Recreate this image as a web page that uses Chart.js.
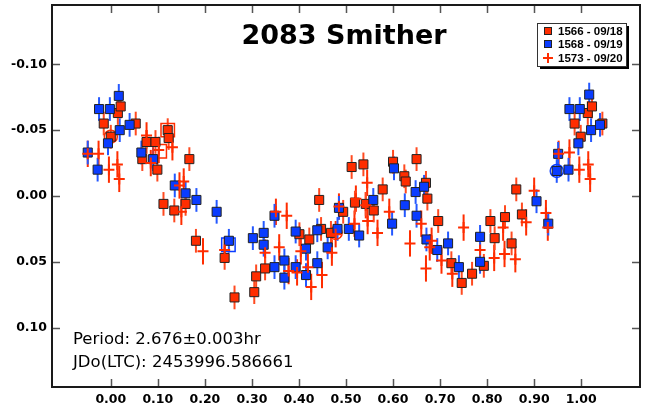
<!DOCTYPE html>
<html>
<head>
<meta charset="utf-8">
<script src="https://cdn.jsdelivr.net/npm/chart.js@4.4.1/dist/chart.umd.min.js"></script>
<style>
  html, body { margin: 0; padding: 0; background: #fff; }
  #wrap { width: 645px; height: 408px; }
</style>
</head>
<body>
<div id="wrap"><canvas id="lc" width="645" height="408"></canvas></div>
<script>
// Lightcurve 2083 Smither - phase vs. relative magnitude
const TITLE = '2083 Smither';
const INFO_LINES = ['Period: 2.676\u00b10.003hr', 'JDo(LTC): 2453996.586661'];
const SERIES_NAMES = ['1566 - 09/18', '1568 - 09/19', '1573 - 09/20'];

const X_TICKS = [0.0, 0.1, 0.2, 0.3, 0.4, 0.5, 0.6, 0.7, 0.8, 0.9, 1.0];
const Y_TICKS = [-0.10, -0.05, 0.0, 0.05, 0.10];

// session 1566 - 09/18 (red squares)
const phase1566 = [-0.015, 0.000, 0.015, 0.021, 0.053, 0.076, 0.095, 0.067, 0.099, 0.121, 0.123, 0.167,
  0.112, 0.135, 0.159, 0.181, 0.242, 0.263, 0.309, 0.305, 0.328, 0.401, 0.422, 0.447, 0.443, 0.468,
  0.494, 0.512, 0.537, 0.578, 0.519, 0.542, 0.559, 0.600, 0.650, 0.624, 0.627, 0.670, 0.673, 0.696,
  0.724, 0.746, 0.768, 0.793, 0.807, 0.816, 0.838, 0.852, 0.862, 0.874, 0.986, 0.999, 1.014, 1.023, 1.045];
const mag1566 = [-0.055, -0.045, -0.063, -0.068, -0.055, -0.041, -0.041, -0.028, -0.020, -0.050, -0.044, -0.028,
  0.006, 0.011, 0.006, 0.034, 0.047, 0.077, 0.061, 0.073, 0.055, 0.029, 0.033, 0.025, 0.003, 0.028,
  0.012, -0.022, -0.024, -0.005, 0.005, 0.006, 0.011, -0.026, -0.028, -0.015, -0.011, -0.010, 0.002, 0.019,
  0.051, 0.066, 0.059, 0.053, 0.019, 0.032, 0.016, 0.036, -0.005, 0.014, -0.055, -0.045, -0.063, -0.068, -0.055];

// session 1568 - 09/19 (blue squares)
const phase1568 = [-0.049, -0.028, -0.006, -0.025, -0.002, 0.017, 0.019, 0.040, 0.065, 0.090, 0.136, 0.159,
  0.182, 0.225, 0.251, 0.302, 0.325, 0.325, 0.348, 0.348, 0.369, 0.369, 0.393, 0.393, 0.415, 0.415,
  0.439, 0.439, 0.461, 0.482, 0.485, 0.506, 0.528, 0.558, 0.598, 0.602, 0.625, 0.648, 0.666, 0.650,
  0.671, 0.694, 0.717, 0.740, 0.785, 0.785, 0.905, 0.930, 0.948, 0.973, 0.951, 0.994, 0.975, 0.997,
  1.017, 1.021, 1.040];
const mag1568 = [-0.033, -0.020, -0.040, -0.066, -0.066, -0.076, -0.050, -0.054, -0.033, -0.028, -0.008, -0.002,
  0.003, 0.012, 0.034, 0.032, 0.028, 0.037, 0.054, 0.015, 0.049, 0.062, 0.054, 0.027, 0.040, 0.060,
  0.051, 0.026, 0.039, 0.025, 0.009, 0.025, 0.030, 0.003, 0.021, -0.021, 0.007, -0.003, -0.007, 0.015,
  0.033, 0.041, 0.036, 0.054, 0.050, 0.031, 0.004, 0.021, -0.019, -0.020, -0.032, -0.040, -0.066, -0.066,
  -0.077, -0.050, -0.054];

// session 1573 - 09/20 (red crosses)
const phase1573 = [-0.049, -0.026, -0.004, 0.014, 0.018, 0.076, 0.085, 0.102, 0.131, 0.150, 0.155, 0.146,
  0.196, 0.242, 0.328, 0.351, 0.374, 0.358, 0.378, 0.396, 0.404, 0.419, 0.426, 0.449, 0.470, 0.478,
  0.485, 0.518, 0.521, 0.542, 0.545, 0.546, 0.567, 0.592, 0.636, 0.660, 0.670, 0.678, 0.682, 0.703,
  0.726, 0.750, 0.785, 0.815, 0.834, 0.837, 0.860, 0.883, 0.900, 0.925, 0.929, 0.952, 0.975, 0.996,
  1.015, 1.019];
const mag1573 = [-0.032, -0.032, -0.020, -0.024, -0.013, -0.046, -0.025, -0.035, -0.037, 0.012, -0.011, -0.008,
  0.042, 0.041, 0.043, 0.012, 0.015, 0.039, 0.057, 0.058, 0.042, 0.054, 0.069, 0.060, 0.043, 0.029,
  0.008, 0.021, 0.002, 0.007, -0.010, 0.019, 0.028, 0.012, 0.036, 0.021, 0.055, 0.039, 0.034, 0.049,
  0.059, 0.024, 0.041, 0.047, 0.024, 0.044, 0.048, 0.020, -0.004, 0.013, 0.024, -0.032, -0.033, -0.020,
  -0.024, -0.013];

// typical error bar half-lengths
const ERR = [0.009, 0.009, 0.010];

// comparison markers (open symbols)
const ringPhase = [0.000, 0.478, 0.948];
const ringMag = [-0.045, 0.028, -0.019];
const boxPhase = [0.121, 0.104, 0.250];
const boxMag = [-0.050, -0.034, 0.037];

const RED = '#ff2d00';
const BLUE = '#0a3cff';

function pts(xs, ys) {
  return xs.map((x, i) => ({ x: x, y: ys[i] }));
}

const errorBars = {
  id: 'errorBars',
  beforeDatasetsDraw(chart) {
    const ctx = chart.ctx;
    const xs = chart.scales.x, ys = chart.scales.y;
    ctx.save();
    chart.data.datasets.forEach(ds => {
      if (ds.err === undefined) return;
      ctx.strokeStyle = ds.errColor;
      ctx.lineWidth = 2;
      ds.data.forEach(p => {
        const px = xs.getPixelForValue(p.x);
        ctx.beginPath();
        ctx.moveTo(px, ys.getPixelForValue(p.y - ds.err));
        ctx.lineTo(px, ys.getPixelForValue(p.y + ds.err));
        ctx.stroke();
      });
    });
    ctx.restore();
  }
};

const frame = {
  id: 'frame',
  afterDraw(chart) {
    const ctx = chart.ctx;
    const a = chart.chartArea;
    const xs = chart.scales.x, ys = chart.scales.y;
    ctx.save();
    // inner tick marks on all four sides
    ctx.strokeStyle = '#555';
    ctx.lineWidth = 1.5;
    const tl = 8;
    X_TICKS.forEach(v => {
      const px = Math.round(xs.getPixelForValue(v)) + 0.5;
      ctx.beginPath();
      ctx.moveTo(px, a.top); ctx.lineTo(px, a.top + tl);
      ctx.moveTo(px, a.bottom); ctx.lineTo(px, a.bottom - tl);
      ctx.stroke();
    });
    Y_TICKS.forEach(v => {
      const py = Math.round(ys.getPixelForValue(v)) + 0.5;
      ctx.beginPath();
      ctx.moveTo(a.left, py); ctx.lineTo(a.left + tl, py);
      ctx.moveTo(a.right, py); ctx.lineTo(a.right - tl, py);
      ctx.stroke();
    });
    // frame
    ctx.strokeStyle = '#1a1a1a';
    ctx.lineWidth = 2;
    ctx.strokeRect(a.left, a.top, a.right - a.left, a.bottom - a.top);

    // title
    ctx.fillStyle = '#000';
    ctx.font = 'bold 27px "DejaVu Sans"';
    ctx.textAlign = 'center';
    ctx.textBaseline = 'alphabetic';
    ctx.fillText(TITLE, 344, 44);

    // period / epoch text
    ctx.font = '16.5px "DejaVu Sans"';
    ctx.textAlign = 'left';
    ctx.fillText(INFO_LINES[0], 73, 344);
    ctx.fillText(INFO_LINES[1], 73, 367);

    // legend box with shadow
    const lx = 537, ly = 23, lw = 89, lh = 43;
    ctx.fillStyle = '#000';
    ctx.fillRect(lx + 3, ly + 3, lw, lh);
    ctx.fillStyle = '#fff';
    ctx.fillRect(lx, ly, lw, lh);
    ctx.strokeStyle = '#333';
    ctx.lineWidth = 1;
    ctx.strokeRect(lx + 0.5, ly + 0.5, lw, lh);
    const rows = [31, 44, 58];
    ctx.font = 'bold 11.5px "Liberation Sans"';
    ctx.textBaseline = 'middle';
    rows.forEach((ry, i) => {
      const mx = 548;
      if (i < 2) {
        ctx.fillStyle = i === 0 ? RED : BLUE;
        ctx.fillRect(mx - 3.5, ry - 3.5, 7, 7);
        ctx.strokeStyle = '#222';
        ctx.strokeRect(mx - 3.5, ry - 3.5, 7, 7);
      } else {
        ctx.strokeStyle = RED;
        ctx.lineWidth = 2;
        ctx.beginPath();
        ctx.moveTo(mx - 5, ry); ctx.lineTo(mx + 5, ry);
        ctx.moveTo(mx, ry - 5); ctx.lineTo(mx, ry + 5);
        ctx.stroke();
        ctx.lineWidth = 1;
      }
      ctx.fillStyle = '#000';
      ctx.fillText(SERIES_NAMES[i], 558, ry + 0.5);
    });
    ctx.restore();
  }
};

new Chart(document.getElementById('lc'), {
  type: 'scatter',
  data: {
    datasets: [
      {
        label: SERIES_NAMES[2], data: pts(phase1573, mag1573), err: ERR[2], errColor: RED,
        pointStyle: 'cross', pointRadius: 5.5, borderColor: RED, borderWidth: 2, backgroundColor: RED
      },
      {
        label: SERIES_NAMES[1], data: pts(phase1568, mag1568), err: ERR[1], errColor: '#2458ff',
        pointStyle: 'rect', pointRadius: 6.4, backgroundColor: BLUE, borderColor: '#222', borderWidth: 1
      },
      {
        label: SERIES_NAMES[0], data: pts(phase1566, mag1566), err: ERR[0], errColor: '#ff4a20',
        pointStyle: 'rect', pointRadius: 6.4, backgroundColor: RED, borderColor: '#222', borderWidth: 1
      },
      {
        label: 'comp-ring', data: pts(ringPhase, ringMag),
        pointStyle: 'circle', pointRadius: 6.5, backgroundColor: 'transparent',
        borderColor: [RED, RED, BLUE], borderWidth: 1.5
      },
      {
        label: 'comp-box', data: pts(boxPhase, boxMag),
        pointStyle: 'rect', pointRadius: 9.5, backgroundColor: 'transparent',
        borderColor: [RED, RED, BLUE], borderWidth: 1.5
      }
    ]
  },
  options: {
    responsive: false,
    animation: false,
    devicePixelRatio: 1,
    layout: { autoPadding: false, padding: { top: 5, right: 5, left: 0, bottom: 0 } },
    plugins: { legend: { display: false }, tooltip: { enabled: false } },
    elements: { point: { hoverRadius: 0 } },
    scales: {
      x: {
        type: 'linear', min: -0.125, max: 1.125,
        grid: { display: false, drawTicks: false },
        border: { display: false },
        afterBuildTicks: s => { s.ticks = X_TICKS.map(v => ({ value: v })); },
        afterFit: s => { s.height = 21; s.paddingLeft = 0; s.paddingRight = 0; },
        ticks: {
          padding: 5, color: '#000',
          font: { family: 'DejaVu Sans', weight: 'bold', size: 12.5 },
          callback: v => v.toFixed(2)
        }
      },
      y: {
        type: 'linear', min: -0.145, max: 0.145, reverse: true,
        grid: { display: false, drawTicks: false },
        border: { display: false },
        afterBuildTicks: s => { s.ticks = Y_TICKS.map(v => ({ value: v })); },
        afterFit: s => { s.width = 52; s.paddingTop = 0; s.paddingBottom = 0; },
        ticks: {
          padding: 5, color: '#000',
          font: { family: 'DejaVu Sans', weight: 'bold', size: 12.5 },
          callback: v => v.toFixed(2)
        }
      }
    }
  },
  plugins: [errorBars, frame]
});
</script>
</body>
</html>
